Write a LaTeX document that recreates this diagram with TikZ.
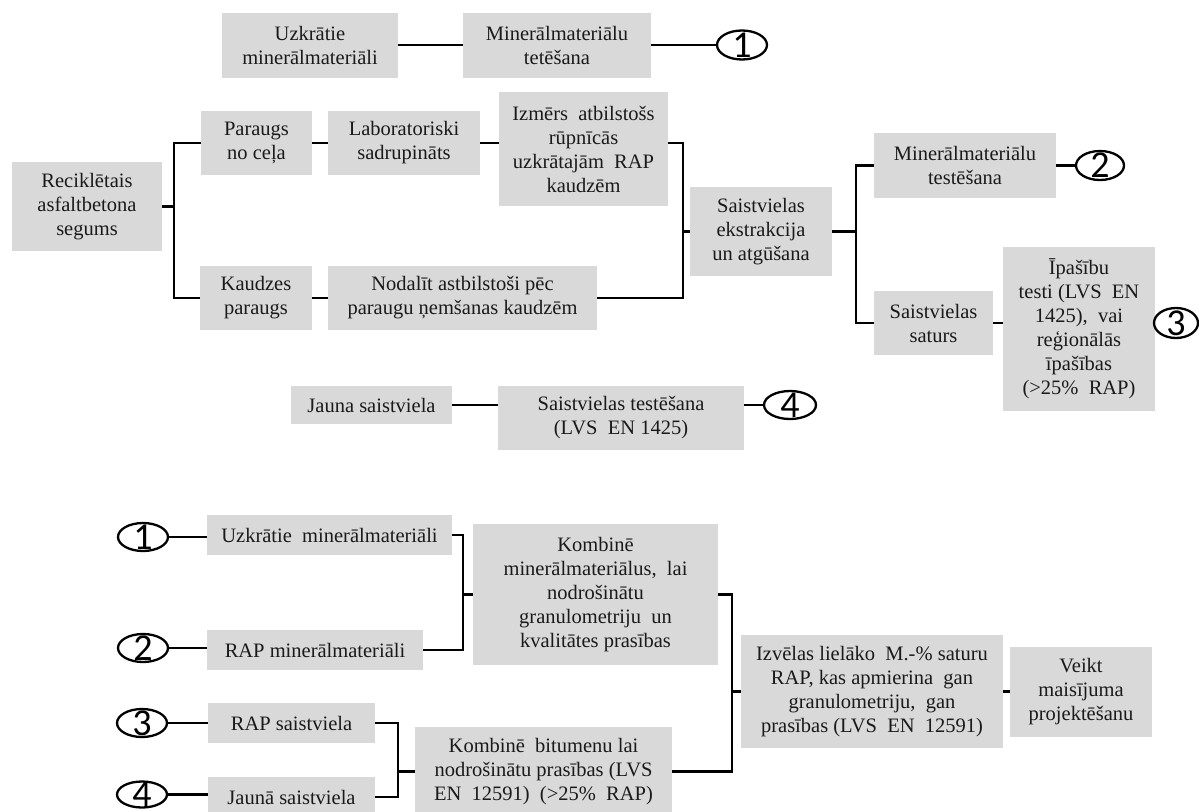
\documentclass[tikz,border=0pt]{standalone}
\usepackage{fontspec}
\setmainfont{Liberation Serif}
\newfontfamily\numfont{Carlito}
\usetikzlibrary{shapes.geometric}
\definecolor{boxgray}{HTML}{D9D9D9}
\definecolor{txt}{HTML}{1A1A1A}
\begin{document}
\begin{tikzpicture}[x=1pt,y=-1pt,
  box/.style={fill=boxgray, inner sep=0pt, align=center, text=txt, font=\fontsize{20.5}{24}\selectfont},
  conn/.style={line width=2.8pt},
  oval/.style={ellipse, draw, line width=2.3pt, fill=white, inner sep=0pt},
  num/.style={inner sep=0pt, font=\numfont\fontsize{38}{38}\selectfont}]
\useasboundingbox (0,0) rectangle (1199,811);
\clip (0,0) rectangle (1199,811);

% ---------- top part ----------
\node[box, minimum width=176, minimum height=65] (uz1) at (310,45) {Uzkrātie\\minerālmateriāli};
\node[box, minimum width=188, minimum height=65] (mt1) at (557,45) {Minerālmateriālu\\tetēšana};
\node[oval, minimum width=50, minimum height=29] (c1) at (742,45) {};
\node[num] at (c1.center) {1};

\node[box, minimum width=150, minimum height=89] (rec) at (87,206.5) {Reciklētais\\asfaltbetona\\segums};
\node[box, minimum width=111, minimum height=64] (par) at (256.5,143) {Paraugs\\no ceļa};
\node[box, minimum width=152, minimum height=64] (lab) at (404,143) {Laboratoriski\\sadrupināts};
\node[box, minimum width=169, minimum height=114] (izm) at (583.5,149) {Izmērs\enspace atbilstošs\\rūpnīcās\\uzkrātajām\enspace RAP\\kaudzēm};
\node[box, minimum width=112, minimum height=64] (kau) at (256,298) {Kaudzes\\paraugs};
\node[box, minimum width=269, minimum height=64] (nod) at (462.5,298) {Nodalīt astbilstoši pēc\\paraugu ņemšanas kaudzēm};
\node[box, minimum width=142, minimum height=89] (sai) at (761,231.5) {Saistvielas\\ekstrakcija\\un atgūšana};
\node[box, minimum width=182, minimum height=65] (mt2) at (965,165.5) {Minerālmateriālu\\testēšana};
\node[oval, minimum width=48, minimum height=29] (c2) at (1100,165.5) {};
\node[num] at (c2.center) {2};
\node[box, minimum width=119, minimum height=64] (sat) at (933.5,323) {Saistvielas\\saturs};
\node[box, minimum width=152, minimum height=164] (ipa) at (1079,329) {Īpašību\\testi (LVS\enspace EN\\1425),\enspace vai\\reģionālās\\īpašības\\(>25\%\enspace RAP)};
\node[oval, minimum width=44, minimum height=30] (c3) at (1176,323) {};
\node[num] at (c3.center) {3};

\node[box, minimum width=161, minimum height=38] (jau) at (371.5,405) {Jauna saistviela};
\node[box, minimum width=246, minimum height=64] (st) at (621,418) {Saistvielas testēšana\\(LVS\enspace EN 1425)};
\node[oval, minimum width=52, minimum height=28] (c4) at (790,405) {};
\node[num] at (c4.center) {4};

\coordinate (b1) at (174,206.5);
\coordinate (b2) at (683,231.5);
\coordinate (b3) at (856,231.5);

\draw[conn] (uz1.east) -- (mt1.west);
\draw[conn] (mt1.east) -- (c1.west);
\draw[conn] (rec.east) -- (b1);
\draw[conn] (par.west) -| (b1) |- (kau.west);
\draw[conn] (par.east) -- (lab.west);
\draw[conn] (kau.east) -- (nod.west);
\draw[conn] (lab.east) -- (lab.east -| izm.west);
\draw[conn] (izm.east |- lab.east) -| (b2) |- (nod.east);
\draw[conn] (b2) -- (sai.west);
\draw[conn] (sai.east) -- (b3);
\draw[conn] (mt2.west) -| (b3) |- (sat.west);
\draw[conn] (mt2.east) -- (c2.west);
\draw[conn] (sat.east) -- (sat.east -| ipa.west);
\draw[conn] (ipa.east |- sat.east) -- (c3.west);
\draw[conn] (jau.east) -- (jau.east -| st.west);
\draw[conn] (st.east |- jau.east) -- (c4.west);

% ---------- bottom part ----------
\node[oval, minimum width=50, minimum height=28] (bc1) at (143,537) {};
\node[num] at (bc1.center) {1};
\node[oval, minimum width=50, minimum height=28] (bc2) at (143,648) {};
\node[num] at (bc2.center) {2};
\node[oval, minimum width=50, minimum height=28] (bc3) at (142,723) {};
\node[num] at (bc3.center) {3};
\node[oval, minimum width=50, minimum height=26] (bc4) at (142,794.5) {};
\node[num] at (bc4.center) {4};

\node[box, minimum width=245, minimum height=40] (bu1) at (329.5,535) {Uzkrātie\enspace minerālmateriāli};
\node[box, minimum width=216, minimum height=40] (brm) at (315,650) {RAP minerālmateriāli};
\node[box, minimum width=167, minimum height=40] (brs) at (291.5,723) {RAP saistviela};
\node[box, minimum width=167, minimum height=40] (bjs) at (291.5,797) {Jaunā saistviela};
\node[box, minimum width=245, minimum height=141] (kmm) at (595.5,594.5) {Kombinē\\minerālmateriālus,\enspace lai\\nodrošinātu\\granulometriju\enspace un\\kvalitātes prasības};
\node[box, minimum width=257, minimum height=89] (kbt) at (543.5,771.5) {Kombinē\enspace bitumenu lai\\nodrošinātu prasības (LVS\\EN\enspace 12591)\enspace (>25\%\enspace RAP)};
\node[box, minimum width=262, minimum height=113] (izv) at (872,691.5) {Izvēlas lielāko\enspace M.-\% saturu\\RAP, kas apmierina\enspace gan\\granulometriju,\enspace gan\\prasības (LVS\enspace EN\enspace 12591)};
\node[box, minimum width=142, minimum height=90] (vei) at (1081,691.5) {Veikt\\maisījuma\\projektēšanu};

\coordinate (b4) at (463,594.5);
\coordinate (b5) at (398,771.5);
\coordinate (b6) at (732,691.5);

\draw[conn] (bc1.east) -- (bc1.east -| bu1.west);
\draw[conn] (bc2.east) -- (bc2.east -| brm.west);
\draw[conn] (bc3.east) -- (bc3.east -| brs.west);
\draw[conn] (bc4.east) -- (bc4.east -| bjs.west);
\draw[conn] (bu1.east) -| (b4) |- (brm.east);
\draw[conn] (b4) -- (kmm.west);
\draw[conn] (brs.east) -| (b5) |- (bjs.east);
\draw[conn] (b5) -- (kbt.west);
\draw[conn] (kmm.east) -| (b6) |- (kbt.east);
\draw[conn] (b6) -- (izv.west);
\draw[conn] (izv.east) -- (vei.west);
\end{tikzpicture}
\end{document}
